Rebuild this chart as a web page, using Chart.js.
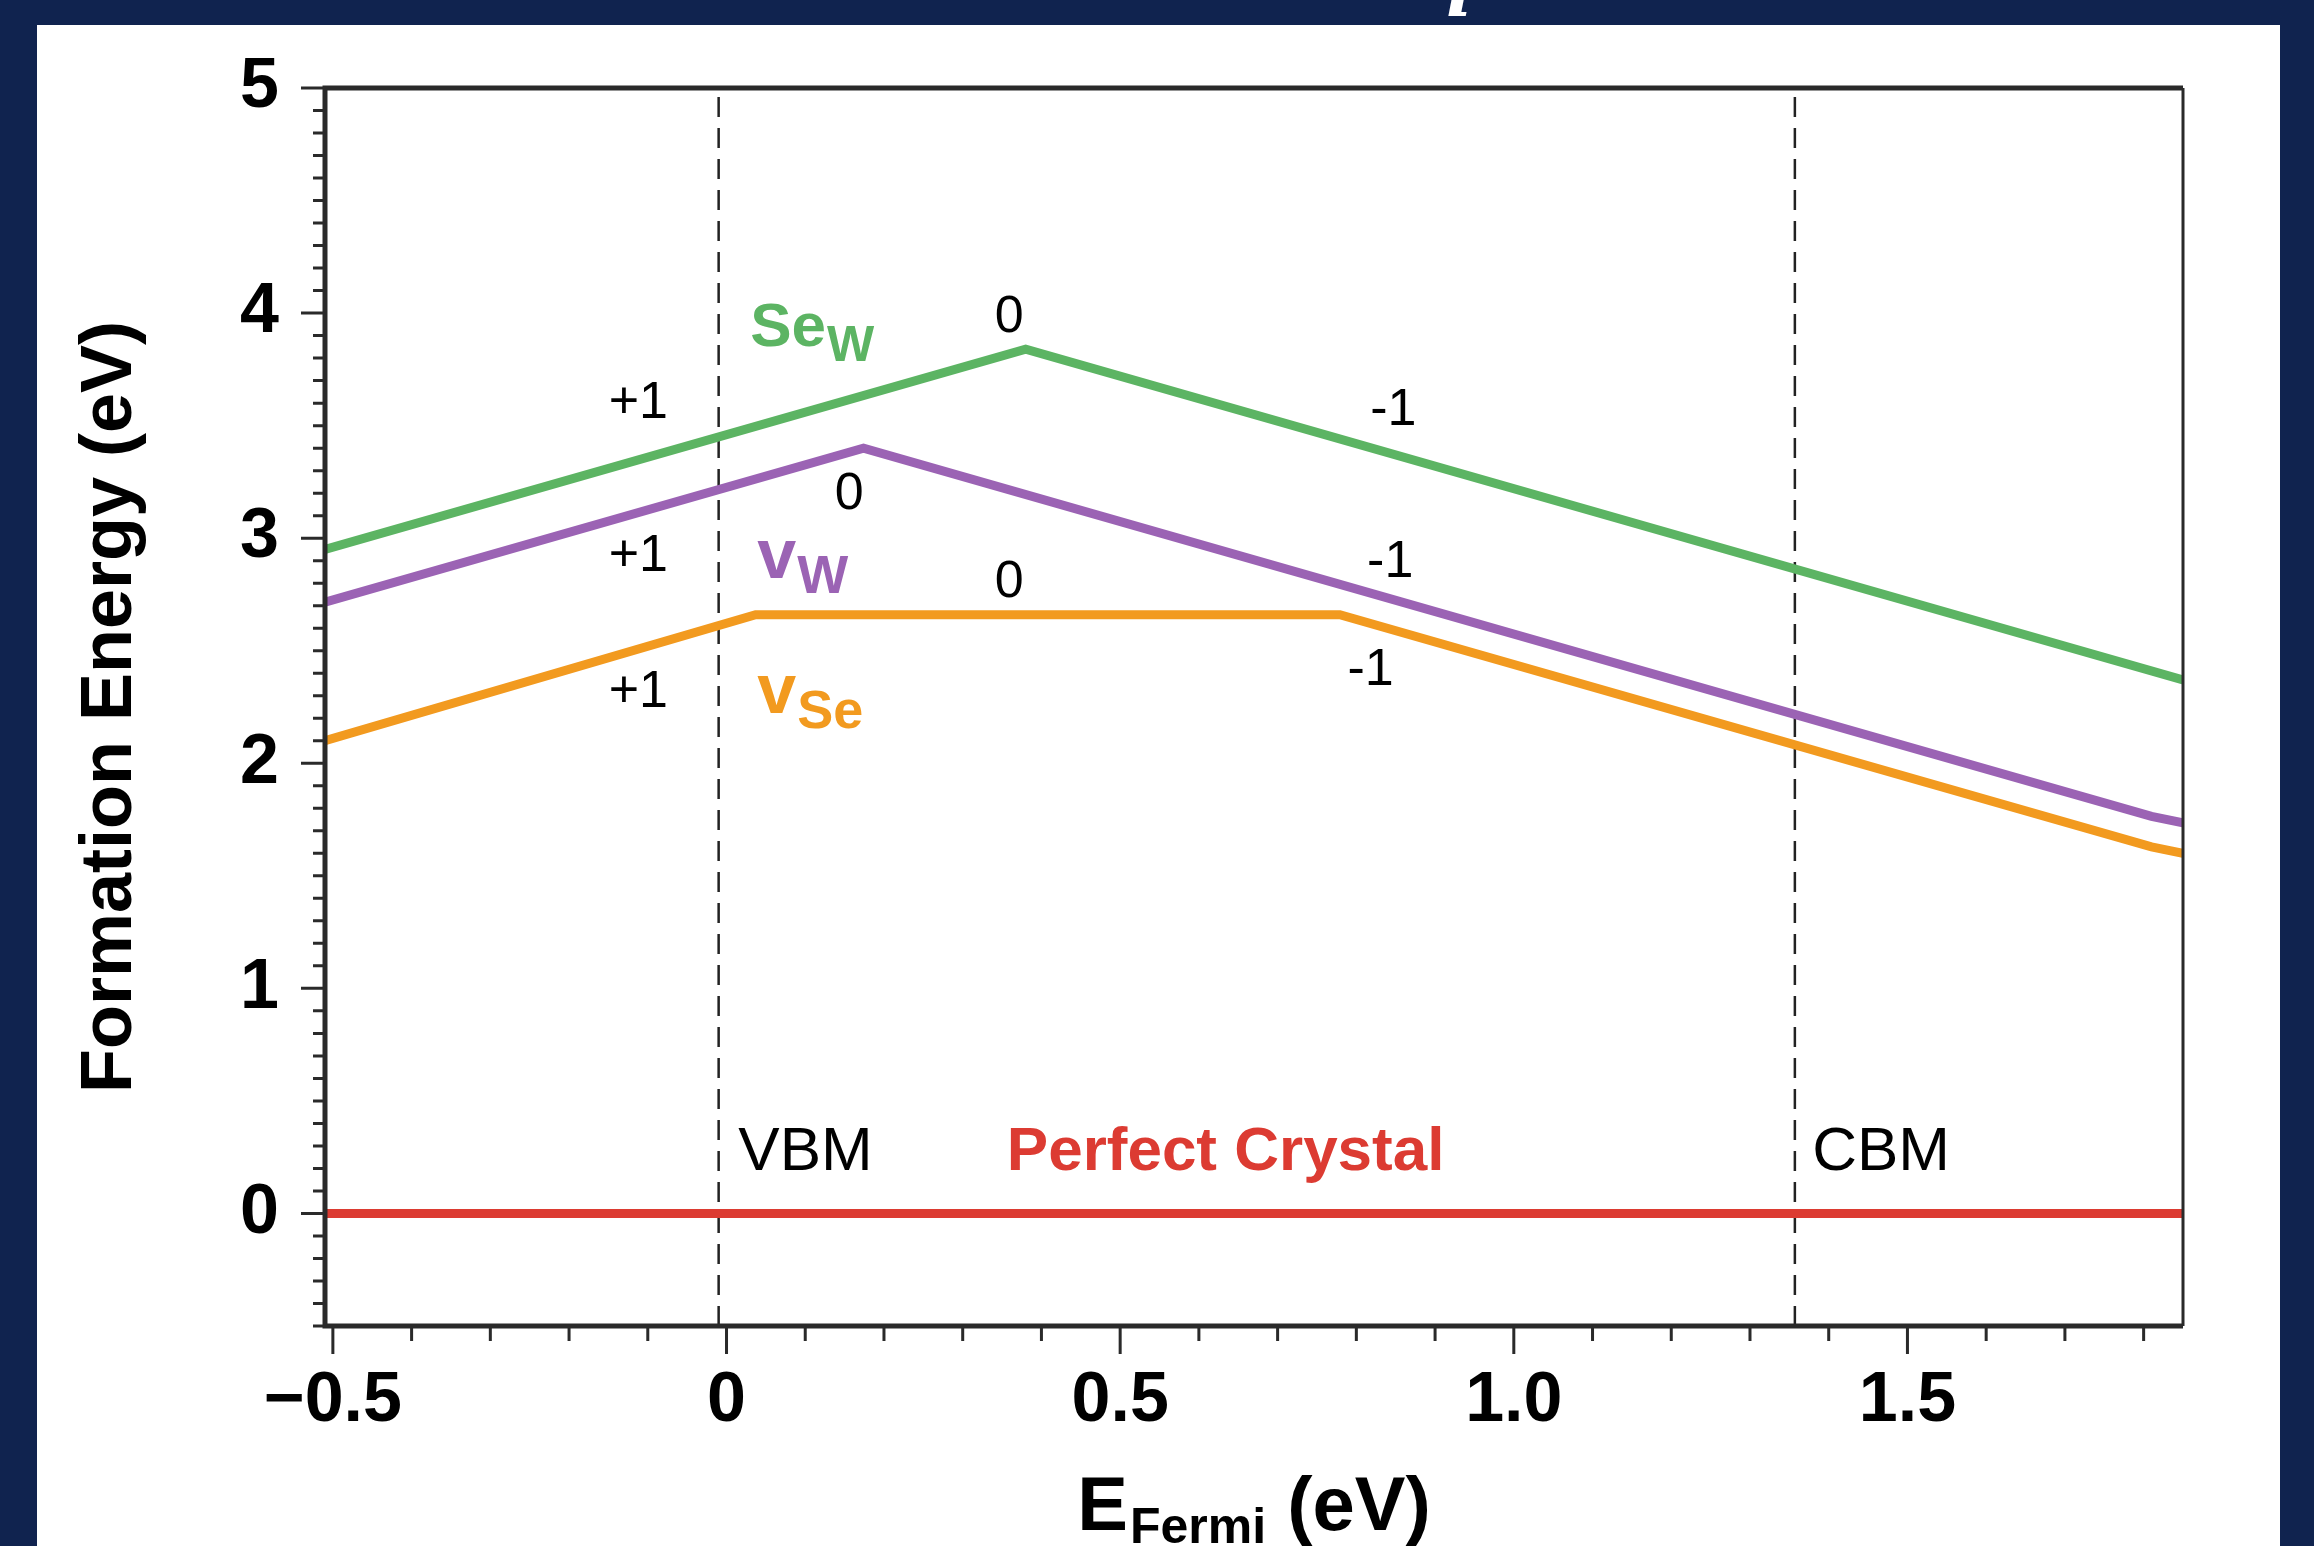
<!DOCTYPE html>
<html>
<head>
<meta charset="utf-8">
<title>Formation Energy vs E Fermi</title>
<script src="https://cdn.jsdelivr.net/npm/chart.js@4.4.0/dist/chart.umd.min.js"></script>
<style>
  html, body { margin: 0; padding: 0; background: #10234f; overflow: hidden; }
  canvas { display: block; }
</style>
</head>
<body>
<canvas id="grafico" width="2314" height="1546"></canvas>
<script>
// valores (x = E Fermi em eV, y = energia de formação em eV)
const fermiSeW = [-0.51, 0.38, 1.85];
const energiaSeW = [2.95, 3.84, 2.37];

const fermiVW = [-0.51, 0.174, 1.81, 1.85];
const energiaVW = [2.716, 3.40, 1.764, 1.735];

const fermiVSe = [-0.51, 0.037, 0.779, 1.81, 1.85];
const energiaVSe = [2.10, 2.66, 2.66, 1.629, 1.60];

const fermiPerfeito = [-0.51, 1.85];
const energiaPerfeito = [0, 0];

const vbm = -0.01;
const cbm = 1.357;

const xTicks = [-0.5, 0, 0.5, 1.0, 1.5];
const xTickLabels = ['\u22120.5', '0', '0.5', '1.0', '1.5'];
const yTicks = [0, 1, 2, 3, 4, 5];
const yTickLabels = ['0', '1', '2', '3', '4', '5'];

const xMin = -0.51, xMax = 1.85, yMin = -0.5, yMax = 5;
const passoMenor = 0.1;

const FONTE = '"Liberation Sans", Arial, sans-serif';
const VERDE = '#5cb463';
const ROXO = '#9b63b4';
const LARANJA = '#f29a1f';
const VERMELHO = '#dc3b32';

// rótulos de carga e nomes dos defeitos (posição em coordenadas dos dados)
const rotulos = [
    { texto: '+1', x: -0.112, y: 3.534, align: 'center' },
    { texto: '0', x: 0.359, y: 3.915, align: 'center' },
    { texto: '-1', x: 0.847, y: 3.503, align: 'center' },
    { texto: '0', x: 0.156, y: 3.131, align: 'center' },
    { texto: '+1', x: -0.112, y: 2.852, align: 'center' },
    { texto: '0', x: 0.359, y: 2.737, align: 'center' },
    { texto: '-1', x: 0.843, y: 2.826, align: 'center' },
    { texto: '+1', x: -0.112, y: 2.250, align: 'center' },
    { texto: '-1', x: 0.818, y: 2.347, align: 'center' },
    { texto: 'VBM', x: 0.015, y: 0.195, align: 'left', tamanho: 62 },
    { texto: 'CBM', x: 1.379, y: 0.195, align: 'left', tamanho: 62 }
];

const nomes = [
    { base: 'Se', indice: 'W', x: 0.030, y: 3.853, cor: VERDE, tam: 62, tamIndice: 50 },
    { base: 'v', indice: 'W', x: 0.039, y: 2.821, cor: ROXO, tam: 70, tamIndice: 54 },
    { base: 'v', indice: 'Se', x: 0.039, y: 2.223, cor: LARANJA, tam: 70, tamIndice: 54 }
];

function serie(xs, ys, cor, largura, ordem, tracejado) {
    return {
        data: xs.map((x, i) => ({ x: x, y: ys[i] })),
        borderColor: cor,
        borderWidth: largura,
        borderDash: tracejado || [],
        pointRadius: 0,
        tension: 0,
        order: ordem
    };
}

function escreverComIndice(ctx, x, y, base, indice, tamBase, tamIndice, desce) {
    ctx.font = 'bold ' + tamBase + 'px ' + FONTE;
    ctx.textAlign = 'left';
    ctx.fillText(base, x, y);
    const w = ctx.measureText(base).width;
    ctx.font = 'bold ' + tamIndice + 'px ' + FONTE;
    ctx.fillText(indice, x + w + 1, y + desce);
    return w + 1 + ctx.measureText(indice).width;
}

const fundoPlugin = {
    id: 'fundo',
    beforeDraw(chart) {
        const ctx = chart.ctx;
        ctx.save();
        ctx.fillStyle = '#ffffff';
        ctx.fillRect(37, 25, 2243, 1521);
        ctx.restore();
    },
    afterDraw(chart) {
        // pedaço do título do slide cortado no topo
        const ctx = chart.ctx;
        ctx.save();
        ctx.fillStyle = 'rgb(255, 255, 255)';
        ctx.font = 'italic bold 70px "DejaVu Serif", serif';
        ctx.textAlign = 'left';
        ctx.textBaseline = 'alphabetic';
        ctx.fillText('i', 1446, 16);
        ctx.restore();
    }
};

const eixosPlugin = {
    id: 'eixos',
    afterDatasetsDraw(chart) {
        const ctx = chart.ctx;
        const a = chart.chartArea;
        const sx = chart.scales.x;
        const sy = chart.scales.y;
        ctx.save();

        // marcas menores e maiores
        ctx.strokeStyle = '#2a2a2a';
        ctx.lineWidth = 3;
        ctx.beginPath();
        for (let i = 0; ; i++) {
            const v = Math.round((-0.5 + i * passoMenor) * 10) / 10;
            if (v > xMax) break;
            const px = sx.getPixelForValue(v);
            const maior = xTicks.some(t => Math.abs(t - v) < 1e-6);
            ctx.moveTo(px, a.bottom);
            ctx.lineTo(px, a.bottom + (maior ? 28 : 15));
        }
        for (let i = 0; ; i++) {
            const v = Math.round((yMin + i * passoMenor) * 10) / 10;
            if (v > yMax + 1e-6) break;
            const py = sy.getPixelForValue(v);
            const maior = yTicks.some(t => Math.abs(t - v) < 1e-6);
            ctx.moveTo(a.left, py);
            ctx.lineTo(a.left - (maior ? 24 : 12), py);
        }
        ctx.stroke();

        // moldura
        ctx.lineWidth = 5;
        ctx.beginPath();
        ctx.moveTo(a.right, a.top);
        ctx.lineTo(a.left, a.top);
        ctx.lineTo(a.left, a.bottom);
        ctx.lineTo(a.right, a.bottom);
        ctx.stroke();
        ctx.lineWidth = 3;
        ctx.beginPath();
        ctx.moveTo(a.right, a.top);
        ctx.lineTo(a.right, a.bottom);
        ctx.stroke();

        // rótulos de carga
        ctx.textBaseline = 'alphabetic';
        ctx.fillStyle = '#000000';
        rotulos.forEach(r => {
            ctx.font = (r.tamanho || 52) + 'px ' + FONTE;
            ctx.textAlign = r.align;
            ctx.fillText(r.texto, sx.getPixelForValue(r.x), sy.getPixelForValue(r.y));
        });

        ctx.fillStyle = VERMELHO;
        ctx.font = 'bold 62px ' + FONTE;
        ctx.textAlign = 'left';
        ctx.fillText('Perfect Crystal', sx.getPixelForValue(0.356), sy.getPixelForValue(0.195));

        nomes.forEach(n => {
            ctx.fillStyle = n.cor;
            escreverComIndice(ctx, sx.getPixelForValue(n.x), sy.getPixelForValue(n.y), n.base, n.indice, n.tam, n.tamIndice, 15);
        });

        // títulos dos eixos
        ctx.fillStyle = '#000000';
        ctx.save();
        ctx.translate(111, (a.top + a.bottom) / 2);
        ctx.rotate(-Math.PI / 2);
        ctx.font = 'bold 72px ' + FONTE;
        ctx.textAlign = 'center';
        ctx.textBaseline = 'middle';
        ctx.fillText('Formation Energy (eV)', 0, 0);
        ctx.restore();

        ctx.textBaseline = 'alphabetic';
        ctx.font = 'bold 76px ' + FONTE;
        const wE = ctx.measureText('E').width;
        const wPar = ctx.measureText(' (eV)').width;
        ctx.font = 'bold 50px ' + FONTE;
        const wSub = ctx.measureText('Fermi').width;
        const total = wE + 2 + wSub + wPar;
        const x0 = (a.left + a.right) / 2 - total / 2;
        ctx.font = 'bold 76px ' + FONTE;
        ctx.textAlign = 'left';
        ctx.fillText('E', x0, 1530);
        ctx.font = 'bold 50px ' + FONTE;
        ctx.fillText('Fermi', x0 + wE + 2, 1543);
        ctx.font = 'bold 76px ' + FONTE;
        ctx.fillText(' (eV)', x0 + wE + 2 + wSub, 1530);

        ctx.restore();
    }
};

new Chart(document.getElementById('grafico'), {
    type: 'line',
    data: {
        datasets: [
            serie([vbm, vbm], [yMin, yMax], '#222222', 2.5, 10, [20, 11]),
            serie([cbm, cbm], [yMin, yMax], '#222222', 2.5, 10, [20, 11]),
            serie(fermiPerfeito, energiaPerfeito, VERMELHO, 9, 1),
            serie(fermiVSe, energiaVSe, LARANJA, 9, 1),
            serie(fermiVW, energiaVW, ROXO, 9, 1),
            serie(fermiSeW, energiaSeW, VERDE, 9, 1)
        ]
    },
    options: {
        responsive: false,
        animation: false,
        layout: { padding: { left: 0, top: 84, right: 131, bottom: 0 } },
        plugins: { legend: { display: false }, tooltip: { enabled: false } },
        scales: {
            x: {
                type: 'linear',
                min: xMin,
                max: xMax,
                afterFit: s => { s.height = 220; },
                afterBuildTicks: s => { s.ticks = xTicks.map(v => ({ value: v })); },
                grid: { display: false, drawTicks: false },
                border: { display: false },
                ticks: {
                    autoSkip: false,
                    maxRotation: 0,
                    padding: 34,
                    color: '#000000',
                    font: { family: FONTE, size: 70, weight: 'bold' },
                    callback: (v, i) => xTickLabels[i]
                }
            },
            y: {
                type: 'linear',
                min: yMin,
                max: yMax,
                afterFit: s => { s.width = 325; },
                afterBuildTicks: s => { s.ticks = yTicks.map(v => ({ value: v })); },
                grid: { display: false, drawTicks: false },
                border: { display: false },
                ticks: {
                    autoSkip: false,
                    padding: 46,
                    color: '#000000',
                    font: { family: FONTE, size: 70, weight: 'bold' },
                    callback: (v, i) => yTickLabels[i]
                }
            }
        }
    },
    plugins: [fundoPlugin, eixosPlugin]
});
</script>
</body>
</html>
